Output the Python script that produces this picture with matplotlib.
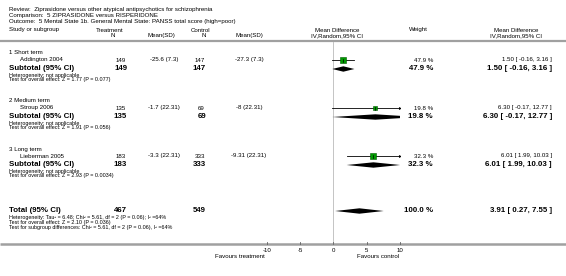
import numpy as np
import matplotlib as mpl
mpl.use('Agg')
import matplotlib.pyplot as plt

plt.rcParams['font.family'] = ['Liberation Sans', 'DejaVu Sans']

# data
groups = ['1 Short term', '2 Medium term', '3 Long term']
studies = ['Addington 2004', 'Stroup 2006', 'Lieberman 2005']
n_trt = [149, 135, 183]
mean_trt = ['-25.6', '-1.7', '-3.3']
sd_trt = ['7.3', '22.31', '22.31']
n_ctl = [147, 69, 333]
mean_ctl = ['-27.3', '-8', '-9.31']
sd_ctl = ['7.3', '22.31', '22.31']
weights = [47.9, 19.8, 32.3]
md = [1.50, 6.30, 6.01]
lo = [-0.16, -0.17, 1.99]
hi = [3.16, 12.77, 10.03]
z_sub = ['Z = 1.77 (P = 0.077)', 'Z = 1.91 (P = 0.056)', 'Z = 2.93 (P = 0.0034)']

tot_n_trt, tot_n_ctl = 467, 549
tot_md, tot_lo, tot_hi = 3.91, 0.27, 7.55
xticks = [-10, -5, 0, 5, 10]
xlim = (-10, 10)

W, H = 566, 276
fig = plt.figure(figsize=(W / 100, H / 100), dpi=100)
ax = fig.add_axes([0, 0, 1, 1])
ax.set_xlim(0, W)
ax.set_ylim(H, 0)
ax.axis('off')

x0, x1 = 266.7, 400.0
fax = fig.add_axes([x0 / W, 0, (x1 - x0) / W, 1])
fax.set_xlim(*xlim)
fax.set_ylim(H, 0)
fax.axis('off')
fax.patch.set_alpha(0)

fs = 4.4
fsb = 5.7
fss = 3.9
grey = '#a0a0a0'

def t(x, y, s, ha='left', size=fs, bold=False):
    ax.text(x, y, s, ha=ha, va='center', fontsize=size,
            fontweight='bold' if bold else 'normal')

# title block
t(9, 10, 'Review:  Ziprasidone versus other atypical antipsychotics for schizophrenia')
t(9, 15.5, 'Comparison:  5 ZIPRASIDONE versus RISPERIDONE')
t(9, 21, 'Outcome:  5 Mental State 1b. General Mental State: PANSS total score (high=poor)')

# headers
t(9, 30, 'Study or subgroup')
t(110, 30, 'Treatment', ha='center')
t(113, 35.5, 'N', ha='center')
t(161, 35.5, 'Mean(SD)', ha='center')
t(201, 30, 'Control', ha='center')
t(204, 35.5, 'N', ha='center')
t(249, 35.5, 'Mean(SD)', ha='center')
t(337, 30, 'Mean Difference', ha='center')
t(337, 35.5, 'IV,Random,95% CI', ha='center')
t(418, 30, 'Weight', ha='center')
t(516, 30, 'Mean Difference', ha='center')
t(516, 35.5, 'IV,Random,95% CI', ha='center')
ax.plot([0, W], [41, 41], color=grey, lw=1.6, solid_capstyle='butt')

xN1, xM1, xN2, xM2, xW, xR = 126, 164, 205, 249, 433, 552
bases = [53, 101, 149]
for i, b in enumerate(bases):
    ys, yt = b + 7, b + 16
    t(9, b, groups[i])
    t(20, ys, studies[i])
    t(xN1, ys, str(n_trt[i]), ha='right')
    t(xM1, ys, '%s (%s)' % (mean_trt[i], sd_trt[i]), ha='center')
    t(xN2, ys, str(n_ctl[i]), ha='right')
    t(xM2, ys, '%s (%s)' % (mean_ctl[i], sd_ctl[i]), ha='center')
    t(xW, ys, '%.1f %%' % weights[i], ha='right')
    t(xR, ys, '%.2f [ %.2f, %.2f ]' % (md[i], lo[i], hi[i]), ha='right')

    t(9, yt, 'Subtotal (95% CI)', size=fsb, bold=True)
    t(xN1 + 1, yt, str(n_trt[i]), ha='right', size=fsb, bold=True)
    t(xN2 + 1, yt, str(n_ctl[i]), ha='right', size=fsb, bold=True)
    t(xW, yt, '%.1f %%' % weights[i], ha='right', size=fsb, bold=True)
    t(xR, yt, '%.2f [ %.2f, %.2f ]' % (md[i], lo[i], hi[i]), ha='right',
      size=fsb, bold=True)
    t(9, b + 22, 'Heterogeneity: not applicable', size=fss)
    t(9, b + 27, 'Test for overall effect: ' + z_sub[i], size=fss)

    # study CI and square
    top = min(hi[i], xlim[1])
    fax.plot([lo[i], top], [ys, ys], color='black', lw=0.6)
    if hi[i] > xlim[1]:
        fax.plot([xlim[1]], [ys], marker='>', ms=2.2, color='black', mew=0)
    fax.scatter([md[i]], [ys], s=weights[i] * 0.5, marker='s',
                facecolor='#009a00', edgecolor='#005a00', lw=0.4, zorder=3)
    fax.plot([md[i], md[i]], [ys - 1.5, ys + 1.5], color='black', lw=0.5,
             zorder=4)
    # subtotal diamond
    fax.fill([lo[i], md[i], hi[i], md[i]], [yt, yt - 2.7, yt, yt + 2.7],
             color='black', lw=0)

# total
yT = 211
t(9, yT, 'Total (95% CI)', size=fsb, bold=True)
t(xN1 + 1, yT, str(tot_n_trt), ha='right', size=fsb, bold=True)
t(xN2 + 1, yT, str(tot_n_ctl), ha='right', size=fsb, bold=True)
t(xW, yT, '100.0 %', ha='right', size=fsb, bold=True)
t(xR, yT, '%.2f [ %.2f, %.2f ]' % (tot_md, tot_lo, tot_hi), ha='right',
  size=fsb, bold=True)
t(9, yT + 6.5, 'Heterogeneity: Tau\u00b2 = 6.48; Chi\u00b2 = 5.61, df = 2 (P = 0.06); I\u00b2 =64%', size=fss)
t(9, yT + 11.5, 'Test for overall effect: Z = 2.10 (P = 0.036)', size=fss)
t(9, yT + 16.5, 'Test for subgroup differences: Chi\u00b2 = 5.61, df = 2 (P = 0.06), I\u00b2 =64%', size=fss)
fax.fill([tot_lo, tot_md, tot_hi, tot_md], [yT, yT - 2.7, yT, yT + 2.7],
         color='black', lw=0)

# zero line and axis
yA = 244
fax.plot([0, 0], [41.5, yA], color='#c4c4c4', lw=0.7, zorder=0)
ax.plot([0, W], [yA, yA], color=grey, lw=1.8, solid_capstyle='butt')
for v in xticks:
    fax.plot([v, v], [yA - 2.5, yA], color='#606060', lw=0.6, clip_on=False)
    fax.text(v, yA + 6, str(v), ha='center', va='center', fontsize=fs,
             clip_on=False)
t(265, 257, 'Favours treatment', ha='right')
t(357, 257, 'Favours control')

fig.savefig('out.png', dpi=100)
